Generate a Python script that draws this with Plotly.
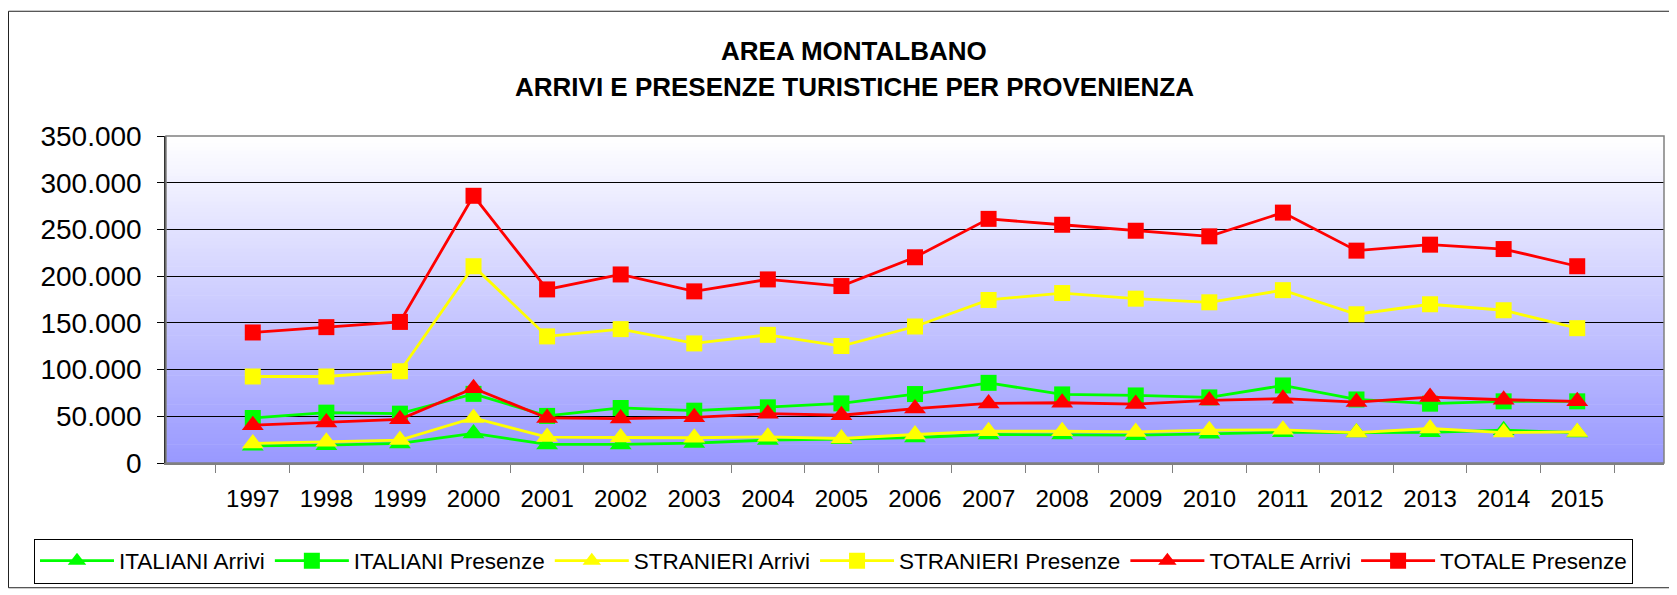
import plotly.graph_objects as go

years = [str(y) for y in range(1997, 2016)]

italiani_arrivi = [18400, 19100, 20900, 31600, 19900, 19900, 21300, 24500, 25500, 27300,
                   30500, 30500, 29800, 31200, 33000, 32600, 32800, 35100, 32600]
italiani_presenze = [48200, 53900, 52800, 74000, 50400, 58900, 56000, 59600, 63800, 73800,
                     85800, 73400, 72300, 70200, 83000, 68000, 63500, 66000, 66000]
stranieri_arrivi = [21000, 22700, 24500, 48200, 27700, 27300, 27000, 28000, 26200, 30500,
                    34000, 34000, 33300, 35100, 35500, 32600, 36900, 32600, 33300]
stranieri_presenze = [92600, 92600, 98200, 210600, 135500, 143300, 128000, 137200, 125200, 146100,
                      174500, 181900, 175900, 172000, 185000, 159200, 169900, 163500, 144300]
totale_arrivi = [40400, 43300, 46800, 80100, 48200, 47500, 48900, 52800, 51100, 58200,
                 63800, 64500, 63100, 67000, 68800, 65200, 70600, 67700, 66000]
totale_presenze = [139700, 145400, 151000, 286000, 185800, 201800, 183700, 196500, 189400, 220200,
                   261300, 255000, 248600, 242600, 268000, 227300, 233700, 229000, 210600]

series = [
    ("ITALIANI Arrivi", italiani_arrivi, "#00FF00", "triangle-up"),
    ("ITALIANI Presenze", italiani_presenze, "#00FF00", "square"),
    ("STRANIERI Arrivi", stranieri_arrivi, "#FFFF00", "triangle-up"),
    ("STRANIERI Presenze", stranieri_presenze, "#FFFF00", "square"),
    ("TOTALE Arrivi", totale_arrivi, "#FF0000", "triangle-up"),
    ("TOTALE Presenze", totale_presenze, "#FF0000", "square"),
]

FONT = "Liberation Sans, Arial, sans-serif"
OFF = 8  # browser body margin
PAGE_W, PAGE_H = 1677, 595
W, H = PAGE_W - OFF, PAGE_H - OFF
# plot area in page px
PL, PR, PT, PB = 166, 1664, 136, 465
L, R, T, B = PL - OFF, PR - OFF, PT - OFF, PB - OFF

fig = go.Figure()
for name, vals, color, sym in series:
    fig.add_trace(go.Scatter(
        x=years, y=vals, name=name, mode="lines+markers",
        line=dict(color=color, width=2.8),
        marker=dict(symbol=sym, size=16 if sym == "square" else 19, color=color),
    ))

def px_x(px):  # page px -> paper x
    return (px - OFF - L) / (R - L)

def px_y(py):  # page px -> paper y
    return (B - (py - OFF)) / (B - T)

shapes = []
N = 90
top = (255, 255, 255)
bot = (153, 153, 255)
for i in range(N):
    f = i / (N - 1)
    c = tuple(round(bot[k] + (top[k] - bot[k]) * f) for k in range(3))
    shapes.append(dict(type="rect", xref="x domain", yref="y domain",
                       x0=0, x1=1, y0=i / N, y1=min(1, (i + 1) / N + 0.002),
                       fillcolor="rgb(%d,%d,%d)" % c, line=dict(width=0), layer="below"))
shapes.append(dict(type="rect", xref="x domain", yref="y domain", x0=0, x1=1, y0=0, y1=1,
                   line=dict(color="#808080", width=1.5), fillcolor="rgba(0,0,0,0)", layer="above"))
shapes.append(dict(type="rect", xref="paper", yref="paper",
                   x0=px_x(8.5), x1=px_x(1675.5), y0=px_y(590.5), y1=px_y(10.5),
                   line=dict(color="#222222", width=1), fillcolor="rgba(0,0,0,0)", layer="below"))
# legend drop shadow
shapes.append(dict(type="rect", xref="paper", yref="paper",
                   x0=px_x(37), x1=px_x(1633), y0=px_y(586), y1=px_y(544),
                   line=dict(width=0), fillcolor="#808080", layer="below"))

fig.update_layout(
    width=W, height=H,
    margin=dict(l=L, r=W - R, t=T, b=H - B, pad=0),
    paper_bgcolor="white", plot_bgcolor="rgba(0,0,0,0)",
    separators=",.",
    font=dict(family=FONT, color="black", size=22),
    shapes=shapes,
    showlegend=True,
    legend=dict(orientation="h",
                x=px_x(34), y=px_y(541), xanchor="left", yanchor="top",
                bgcolor="white", bordercolor="black", borderwidth=1,
                font=dict(family=FONT, size=22.5, color="black"),
                itemwidth=74, tracegroupgap=0, traceorder="normal"),
    annotations=[
        dict(text="<b>AREA MONTALBANO</b>", xref="paper", yref="paper",
             x=px_x(854), y=px_y(50), xanchor="center", yanchor="middle",
             showarrow=False, font=dict(family=FONT, size=26, color="black")),
        dict(text="<b>ARRIVI E PRESENZE TURISTICHE PER PROVENIENZA</b>", xref="paper", yref="paper",
             x=px_x(854), y=px_y(87), xanchor="center", yanchor="middle",
             showarrow=False, font=dict(family=FONT, size=26, color="black")),
    ],
)

fig.update_xaxes(
    type="category", tickson="boundaries", ticks="outside", ticklen=8, tickcolor="#808080",
    showline=True, linecolor="#808080", linewidth=1.5, showgrid=False, zeroline=False,
    ticklabelstandoff=13,
    tickfont=dict(family=FONT, size=24, color="black"),
)
fig.update_yaxes(
    range=[0, 350000], dtick=50000, tickformat=",d", ticks="outside", ticklen=7,
    tickcolor="black", showline=True, linecolor="#333333", linewidth=1.5,
    showgrid=True, gridcolor="black", gridwidth=1, zeroline=False,
    ticklabelstandoff=10,
    tickfont=dict(family=FONT, size=28, color="black"),
)

fig.write_html("out.html")
